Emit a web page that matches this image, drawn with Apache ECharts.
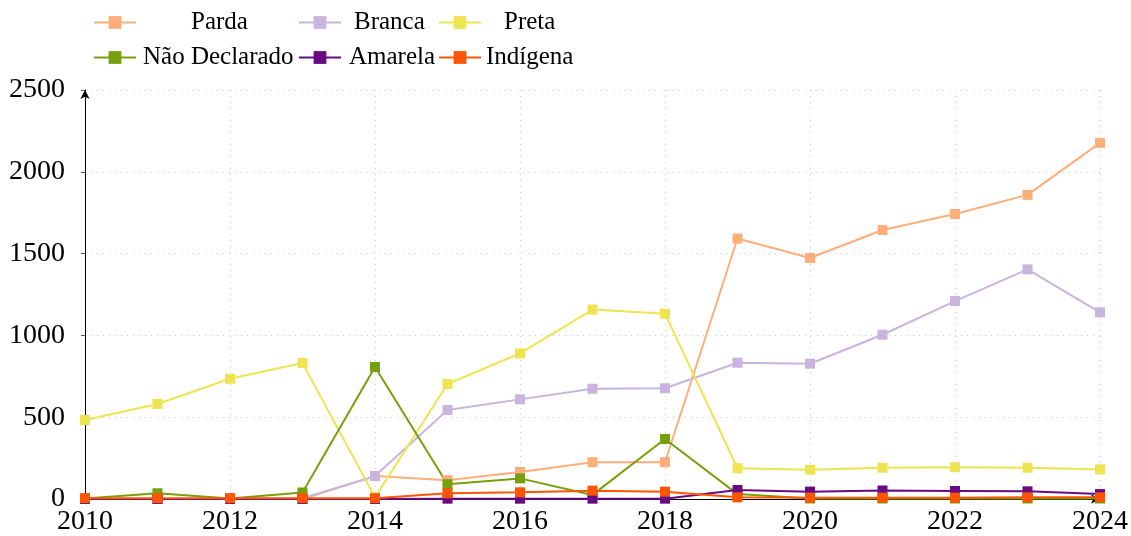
<!DOCTYPE html>
<html>
<head>
<meta charset="utf-8">
<script src="https://cdn.jsdelivr.net/npm/echarts@6/dist/echarts.min.js"></script>
<style>
  html, body { margin: 0; padding: 0; background: #fff; }
  #chart { width: 1131px; height: 536px; }
</style>
</head>
<body>
<div id="chart"></div>
<script>
// anos e valores por cor/raça
const years = [2010, 2011, 2012, 2013, 2014, 2015, 2016, 2017, 2018, 2019, 2020, 2021, 2022, 2023, 2024]
const parda = [0, 0, 0, 0, 140, 115, 165, 225, 225, 1592, 1473, 1644, 1742, 1859, 2177]
const branca = [0, 0, 0, 5, 140, 544, 609, 674, 677, 833, 827, 1004, 1210, 1404, 1141]
const preta = [483, 581, 735, 831, 10, 703, 890, 1158, 1133, 188, 179, 191, 194, 191, 181]
const naoDeclarado = [3, 35, 3, 40, 807, 90, 126, 25, 367, 30, 3, 3, 3, 3, 3]
const amarela = [0, 0, 0, 0, 0, 2, 2, 2, 2, 55, 45, 52, 49, 47, 30]
const indigena = [5, 5, 5, 5, 5, 35, 41, 51, 45, 10, 8, 8, 8, 10, 10]
const yTicks = [0, 500, 1000, 1500, 2000, 2500]

const names = ['Parda', 'Branca', 'Preta', 'Não Declarado', 'Amarela', 'Indígena']
const colors = ['#fdae7b', '#c8b4de', '#eee452', '#76a00c', '#680a80', '#ff5500']
const values = [parda, branca, preta, naoDeclarado, amarela, indigena]

const font = '"Liberation Serif", "DejaVu Serif", serif'

// posição de cada item da legenda (duas linhas, três colunas)
const legendPos = [
  { left: 93, top: 10, pad: 50 },
  { left: 298, top: 10, pad: 8 },
  { left: 438, top: 10, pad: 18 },
  { left: 93, top: 45, pad: 2 },
  { left: 298, top: 45, pad: 3 },
  { left: 438, top: 45, pad: 0 }
]

const chart = echarts.init(document.getElementById('chart'))

const series = names.map((name, i) => ({
  name: name,
  type: 'line',
  data: years.map((y, j) => [y, values[i][j]]),
  symbol: 'rect',
  symbolSize: 10,
  color: colors[i],
  lineStyle: { width: 2, color: colors[i] },
  itemStyle: { color: colors[i] },
  emphasis: { disabled: true }
}))

chart.setOption({
  animation: false,
  textStyle: { fontFamily: font },
  legend: names.map((name, i) => ({
    data: [name],
    left: legendPos[i].left,
    top: legendPos[i].top,
    itemWidth: 42,
    itemHeight: 16,
    padding: 0,
    selectedMode: false,
    textStyle: {
      fontFamily: font,
      fontSize: 25,
      color: '#000',
      padding: [0, 0, 0, legendPos[i].pad]
    }
  })),
  grid: {
    left: 85,
    right: 31,
    top: 90,
    bottom: 36
  },
  xAxis: {
    type: 'value',
    min: 2010,
    max: 2024,
    interval: 2,
    axisLine: {
      show: true,
      onZero: false,
      lineStyle: { color: '#000', width: 1 },
      symbol: ['none', 'arrow'],
      symbolSize: [7, 9]
    },
    axisTick: { show: false },
    axisLabel: {
      formatter: v => String(v),
      color: '#000',
      fontSize: 28,
      fontFamily: font,
      margin: 9
    },
    splitLine: {
      show: true,
      lineStyle: { color: '#c8c8c8', type: [1, 5], width: 1 }
    }
  },
  yAxis: {
    type: 'value',
    min: yTicks[0],
    max: yTicks[yTicks.length - 1],
    interval: 500,
    axisLine: {
      show: true,
      lineStyle: { color: '#000', width: 1 },
      symbol: ['none', 'arrow'],
      symbolSize: [7, 9]
    },
    axisTick: { show: true, length: 4, lineStyle: { color: '#555' } },
    axisLabel: {
      formatter: v => String(v),
      color: '#000',
      fontSize: 28,
      fontFamily: font,
      margin: 20
    },
    splitLine: {
      show: true,
      lineStyle: { color: '#c8c8c8', type: [1, 5], width: 1 }
    }
  },
  series: series
})
</script>
</body>
</html>
